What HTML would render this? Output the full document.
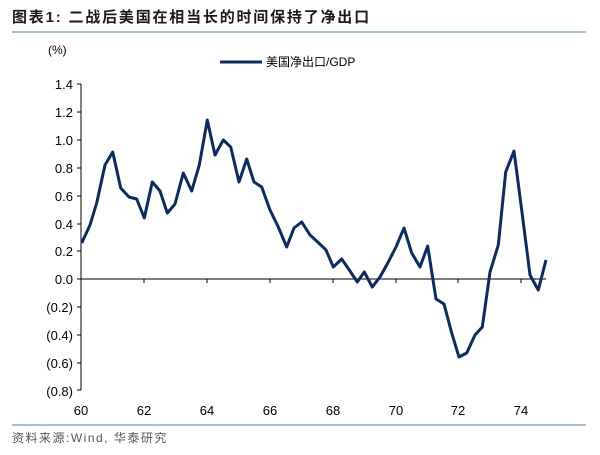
<!DOCTYPE html>
<html><head><meta charset="utf-8"><style>
body{margin:0;background:#fff;}
svg{display:block;font-family:"Liberation Sans","Noto Sans CJK SC",sans-serif;}
</style></head><body>
<svg width="600" height="455" xmlns="http://www.w3.org/2000/svg">
<text x="12" y="22" font-size="15" font-weight="bold" fill="#1a1a1a" letter-spacing="1.8">图表1:  二战后美国在相当长的时间保持了净出口</text>
<line x1="12" y1="32" x2="586" y2="32" stroke="#8aa8c8" stroke-width="1.5"/>
<text x="48" y="54" font-size="12" fill="#000">(%)</text>
<line x1="220" y1="62" x2="262" y2="62" stroke="#0d2b5c" stroke-width="3"/>
<text x="266" y="66" font-size="12" fill="#000">美国净出口/GDP</text>
<g font-size="13" fill="#000" text-anchor="end">
<text x="73" y="89">1.4</text><text x="73" y="117">1.2</text><text x="73" y="145">1.0</text>
<text x="73" y="173">0.8</text><text x="73" y="201">0.6</text><text x="73" y="229">0.4</text>
<text x="73" y="256">0.2</text><text x="73" y="284">0.0</text><text x="73" y="312">(0.2)</text>
<text x="73" y="340">(0.4)</text><text x="73" y="368">(0.6)</text><text x="73" y="396">(0.8)</text>
</g>
<line x1="81" y1="84" x2="81" y2="390" stroke="#000"/>
<g stroke="#000">
<line x1="77" y1="84" x2="81" y2="84"/><line x1="77" y1="112" x2="81" y2="112"/><line x1="77" y1="140" x2="81" y2="140"/>
<line x1="77" y1="168" x2="81" y2="168"/><line x1="77" y1="196" x2="81" y2="196"/><line x1="77" y1="224" x2="81" y2="224"/>
<line x1="77" y1="251" x2="81" y2="251"/><line x1="77" y1="279" x2="81" y2="279"/><line x1="77" y1="307" x2="81" y2="307"/>
<line x1="77" y1="335" x2="81" y2="335"/><line x1="77" y1="363" x2="81" y2="363"/><line x1="77" y1="390" x2="81" y2="390"/>
<line x1="81" y1="279" x2="546" y2="279"/>
<line x1="144" y1="279" x2="144" y2="283"/><line x1="207" y1="279" x2="207" y2="283"/><line x1="270" y1="279" x2="270" y2="283"/>
<line x1="333" y1="279" x2="333" y2="283"/><line x1="396" y1="279" x2="396" y2="283"/><line x1="458" y1="279" x2="458" y2="283"/>
<line x1="521" y1="279" x2="521" y2="283"/>
</g>
<g font-size="13" fill="#000" text-anchor="middle">
<text x="81" y="415">60</text><text x="144" y="415">62</text><text x="207" y="415">64</text><text x="270" y="415">66</text>
<text x="333" y="415">68</text><text x="396" y="415">70</text><text x="458" y="415">72</text><text x="521" y="415">74</text>
</g>
<polyline fill="none" stroke="#0d2b5c" stroke-width="3" stroke-linejoin="round" points="81.7,243 90,225 96.7,203 105,165 112.7,152 120.7,188 129,197 136.7,199 144.3,218 152.3,182 160,191 167.3,213 175,204 183.3,173 191.7,191 199.3,165 207.3,120 215,155 223.3,140 230.7,147 239,182 246.7,159 254,182 261.7,187 270,210 278.3,227 286.7,247 294,228 301.7,222 310,235 317.7,242 326,250 333.3,267 341.7,259 349.3,270 357.3,282 364.3,272 372.3,287 380,277 388.3,262 396,247 404,228 411.7,253 420,267 427.7,246 436,299 444,304 451.7,333 459,357 466.7,353 475,335 482.3,327 490,272 498.3,245 505.7,172 514,151 521.7,210 530,275 538.3,290 546,260"/>
<line x1="12" y1="425" x2="586" y2="425" stroke="#8aa8c8" stroke-width="1.5"/>
<text x="12" y="442" font-size="12" fill="#555" letter-spacing="1.5">资料来源:Wind, 华泰研究</text>
</svg>
</body></html>
